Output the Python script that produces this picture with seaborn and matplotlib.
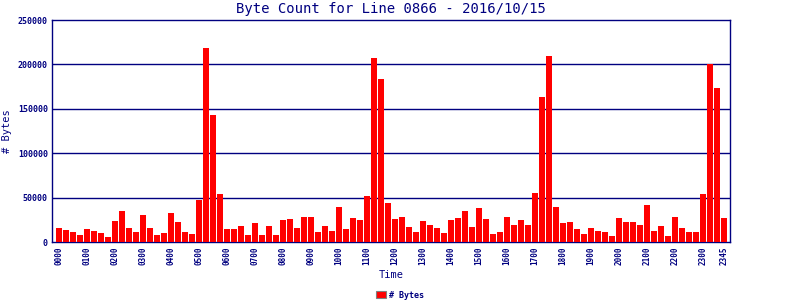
import matplotlib
matplotlib.use("Agg")
import matplotlib.pyplot as plt
from matplotlib.patches import Patch
import seaborn as sns
import pandas as pd

times = [f"{h:02d}{m:02d}" for h in range(24) for m in (0, 15, 30, 45)]
byte_counts = [
    15500, 13300, 11000, 7600, 14400, 12100, 9800, 5300,
    23500, 34800, 15500, 11000, 30300, 15500, 7600, 9800,
    32600, 22300, 11000, 8700, 47300, 218500, 143000, 54200,
    14400, 14400, 17800, 7600, 21200, 7600, 17800, 7600,
    24600, 25800, 15500, 28000, 28000, 11000, 17800, 12100,
    39400, 14400, 26900, 24600, 51900, 207000, 184000, 43900,
    25800, 28000, 16700, 11000, 23500, 18900, 15500, 9800,
    24600, 26900, 34800, 16700, 38300, 25800, 8700, 11000,
    28000, 18900, 24600, 18900, 55300, 163000, 209000, 39400,
    21200, 22300, 14400, 8700, 15500, 12100, 11000, 6400,
    26900, 22300, 22300, 18900, 41700, 12100, 17800, 6400,
    28000, 15500, 11000, 11000, 54200, 200000, 173000, 26900,
]
tick_labels = [f"{h:02d}00" for h in range(24)] + ["2345"]
y_ticks = [0, 50000, 100000, 150000, 200000, 250000]

navy = "#000080"
df = pd.DataFrame({"Time": times, "Bytes": byte_counts})

sns.set_style("white")
plt.rcParams["font.family"] = ["DejaVu Sans Mono", "DejaVu Sans"]

fig = plt.figure(figsize=(8, 3), dpi=100)
ax = fig.add_axes([52 / 800, 1 - 242 / 300, (730 - 52) / 800, (242 - 20) / 300])

sns.barplot(data=df, x="Time", y="Bytes", order=times, color="#ff0000",
            saturation=1, width=0.86, ax=ax, zorder=3, linewidth=0)

ax.set_xlim(-1.0, 95.9)
ax.set_ylim(0, 250000)
ax.set_yticks(y_ticks)
ax.set_yticklabels([str(v) for v in y_ticks], fontsize=6, fontweight="bold", color=navy)
tick_pos = [times.index(t) for t in tick_labels]
ax.set_xticks(tick_pos)
ax.set_xticklabels(tick_labels, rotation=90, fontsize=5.5, fontweight="bold", color=navy)
ax.tick_params(axis="both", length=0, pad=3)

for v in y_ticks[1:-1]:
    ax.axhline(v, color=navy, linewidth=1.0, zorder=1)

for sp in ax.spines.values():
    sp.set_color(navy)
    sp.set_linewidth(1.0)
    sp.set_visible(True)

ax.set_xlabel("Time", fontsize=7.5, color=navy, labelpad=4)
ax.set_ylabel("# Bytes", fontsize=7.5, color=navy, labelpad=4)
ax.set_title("Byte Count for Line 0866 - 2016/10/15", fontsize=10, color=navy, pad=5)

handle = Patch(facecolor="#ff0000", edgecolor="#808080", linewidth=0.8, label="# Bytes")
fig.legend(handles=[handle], loc="center", bbox_to_anchor=(400 / 800, 1 - 295 / 300),
           frameon=False, prop={"size": 6, "weight": "bold"}, labelcolor=navy,
           handlelength=1.2, handleheight=0.9, handletextpad=0.4)

fig.savefig("out.png", dpi=100)
